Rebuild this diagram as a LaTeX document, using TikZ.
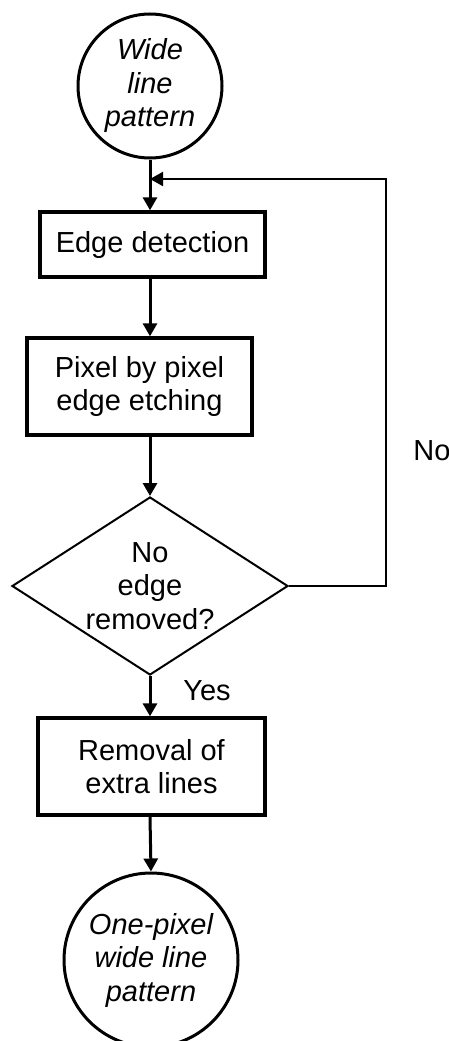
\documentclass[tikz,border=0pt]{standalone}
\usepackage{fontspec}
\setmainfont{Liberation Sans}
\usetikzlibrary{shapes.geometric,arrows.meta}
\tikzset{
  txt/.style={font=\fontsize{29}{33.5}\selectfont},
  procbox/.style={draw, line width=3.4pt, rectangle, inner sep=0pt, align=center, txt},
  termcirc/.style={draw, line width=3pt, circle, inner sep=0pt, align=center, font=\fontsize{29}{33.5}\selectfont\itshape},
  decide/.style={draw, line width=2pt, diamond, inner sep=0pt, align=center, txt, shape aspect=1.55},
  flow/.style={line width=3pt, -{Triangle[length=13pt,width=14pt]}},
  back/.style={line width=2pt, -{Triangle[length=13pt,width=14pt]}},
  lbl/.style={txt, inner sep=0pt}
}
\begin{document}
\begin{tikzpicture}[x=1pt,y=-1pt]
\useasboundingbox (0,0) rectangle (449,1041);
\node[termcirc, minimum size=144pt] (start) at (150,86) {Wide\\line\\pattern};
\node[procbox, minimum width=225pt, minimum height=65pt] (edge) at (152.5,244.5) {Edge detection};
\node[procbox, minimum width=225pt, minimum height=97pt] (pixel) at (139.5,386.5) {Pixel by pixel\\edge etching};
\node[decide, minimum width=276pt, minimum height=178pt] (dia) at (150,586) {No\\edge\\removed?};
\node[procbox, minimum width=227pt, minimum height=97pt] (rem) at (151.5,766.5) {Removal of\\extra lines};
\node[termcirc, minimum size=174pt] (stop) at (151,960) {One-pixel\\wide line\\pattern};
\node[lbl] (no) at (432,451) {No};
\node[lbl] (yes) at (207,691) {Yes};
\coordinate (fb) at (386,179);
\coordinate (j) at (150,179);
\draw[flow] (start.south) -- (start.south |- edge.north);
\draw[flow] (edge.south -| start.south) -- (pixel.north -| start.south);
\draw[flow] (pixel.south -| dia.north) -- (dia.north);
\draw[flow] (dia.south) -- (dia.south |- rem.north);
\draw[flow] (rem.south -| dia.south) -- (stop.north);
\draw[back] (dia.east) -| (fb) -- (j);
\end{tikzpicture}
\end{document}
